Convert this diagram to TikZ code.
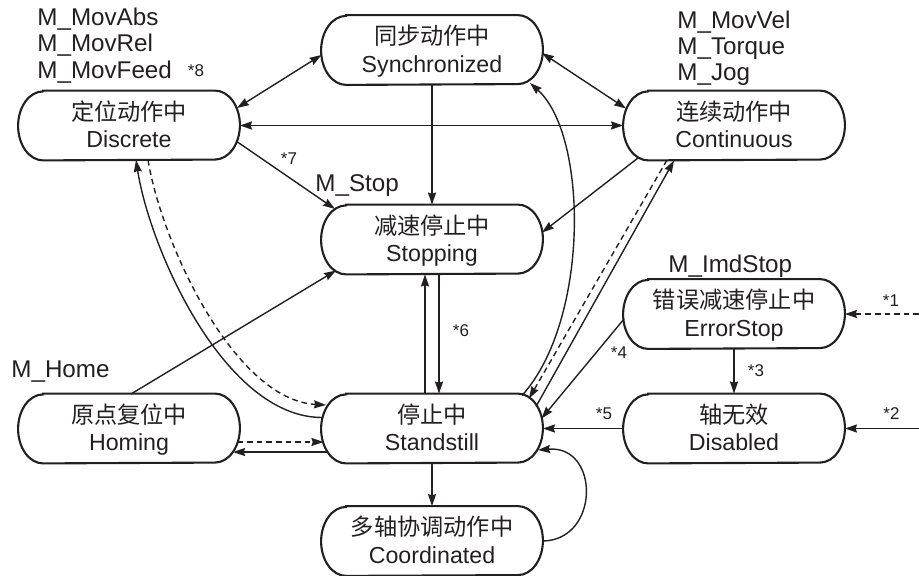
\documentclass[tikz,border=0pt]{standalone}
\usepackage{fontspec}
\setmainfont{Liberation Sans}
\newfontfamily\cjk{Noto Sans CJK SC}
\usetikzlibrary{arrows.meta,calc}

\definecolor{ink}{HTML}{231F20}

% two-line state label: Chinese name over English name, fixed line metrics
\newcommand\stlines[2]{\rule[-2.7pt]{0pt}{13.8pt}{\cjk #1}\\\rule[-2.7pt]{0pt}{13.8pt}#2}

\tikzset{
  state/.style={minimum width=110.5pt, minimum height=34.5pt, inner sep=0pt,
    align=center, text=ink, font=\fontsize{11.6}{13.8}\selectfont},
  outline/.style={draw=ink, line width=1.05pt},
  conn/.style={draw=ink, line width=0.7pt},
  dashedline/.style={dash pattern=on 2.8pt off 2pt},
  lbl/.style={text=ink, inner sep=0pt, font=\fontsize{12.1}{13}\selectfont},
  note/.style={text=ink, inner sep=0pt, font=\fontsize{8.5}{9}\selectfont},
  >={Stealth[length=6pt,width=4pt,inset=0.6pt]}
}

\begin{document}
\begin{tikzpicture}[x=0.5pt,y=-0.5pt]
\useasboundingbox (0,0) rectangle (919,576);

% states
\node[state] (dis) at (129,125.5) {\stlines{定位动作中}{Discrete}};
\node[state] (syn) at (432,50)    {\stlines{同步动作中}{Synchronized}};
\node[state] (con) at (734,125.5) {\stlines{连续动作中}{Continuous}};
\node[state] (stp) at (432,239.5) {\stlines{减速停止中}{Stopping}};
\node[state] (err) at (734,314)   {\stlines{错误减速停止中}{ErrorStop}};
\node[state] (sta) at (432,428.5) {\stlines{停止中}{Standstill}};
\node[state] (hom) at (129,428.5) {\stlines{原点复位中}{Homing}};
\node[state] (dsb) at (734,428.5) {\stlines{轴无效}{Disabled}};
\node[state] (coo) at (432,541)   {\stlines{多轴协调动作中}{Coordinated}};

% outlines with elliptical ends
\foreach \n in {dis,syn,con,stp,err,sta,hom,dsb,coo}{
  \draw[outline] ([xshift=12.5pt]\n.north west) -- ([xshift=-12.5pt]\n.north east)
    arc[start angle=90,end angle=-90,x radius=12.5pt,y radius=17.25pt]
    -- ([xshift=12.5pt]\n.south west)
    arc[start angle=270,end angle=90,x radius=12.5pt,y radius=17.25pt] -- cycle;
}

% command labels
\node[lbl,anchor=base west] (mabs)  at (37,26)    {M\_MovAbs};
\node[lbl,anchor=base west] (mrel)  at (37,52)    {M\_MovRel};
\node[lbl,anchor=base west] (mfeed) at (37,78.3)  {M\_MovFeed};
\node[note,anchor=base]     (n8)    at (196,76.7) {*8};
\node[lbl,anchor=base west] (mvel)  at (677,28.5) {M\_MovVel};
\node[lbl,anchor=base west] (mtrq)  at (677,54.5) {M\_Torque};
\node[lbl,anchor=base west] (mjog)  at (677,81)   {M\_Jog};
\node[lbl,anchor=base west] (mstop) at (315,191.5){M\_Stop};
\node[note,anchor=base]     (n7)    at (289,165)  {*7};
\node[note,anchor=base]     (n6)    at (461,337)  {*6};
\node[lbl,anchor=base west] (mimd)  at (668,272.7){M\_ImdStop};
\node[note,anchor=base]     (n1)    at (891,307)  {*1};
\node[note,anchor=base]     (n4)    at (619,359)  {*4};
\node[note,anchor=base]     (n3)    at (756,376.5){*3};
\node[note,anchor=base]     (n5)    at (604,419)  {*5};
\node[note,anchor=base]     (n2)    at (891.5,419){*2};
\node[lbl,anchor=base west] (mhome) at (11,377.3) {M\_Home};

% free ends of the incoming transitions
\coordinate (in1) at (919,314);
\coordinate (in2) at (919,428.5);

% transitions among the moving states
\draw[conn,<->] ($(dis)+(108,-17.5)$) -- ($(syn)+(-110.5,5)$);
\draw[conn,<->] ($(syn)+(110,3)$) -- ($(con)+(-108,-17)$);
\draw[conn,<->] (dis.east) -- (con.west);

% into Stopping
\draw[conn,->] (syn.south) -- (stp.north);
\draw[conn,->] ($(dis)+(107,15.5)$) -- ($(stp)+(-97,-30.5)$);
\draw[conn,->] ($(con)+(-96,32.5)$) -- ($(stp)+(110,-7)$);
\draw[conn,->] ($(hom)+(2,-34.5)$) -- ($(stp)+(-96,31)$);

% Stopping and Standstill
\draw[conn,->] ([xshift=-3.5pt]sta.north) -- ([xshift=-3.5pt]stp.south);
\draw[conn,->] ([xshift=3.5pt]stp.south) -- ([xshift=3.5pt]sta.north);

% Standstill to Synchronized
\draw[conn,->] ($(sta)+(90,-33)$) .. controls ($(sta)+(158,-108.5)$) and ($(syn)+(156,85)$) .. ($(syn)+(98,33)$);

% Standstill and Continuous
\draw[conn,->] ($(sta)+(104,-22)$) -- ($(con)+(-60,35)$);
\draw[conn,->,dashedline] ($(con)+(-67,34.5)$) -- ($(sta)+(97,-30)$);

% error handling
\draw[conn,->] ($(err)+(-110,5)$) -- ($(sta)+(109.5,-10)$);
\draw[conn,->] (dsb.west) -- (sta.east);
\draw[conn,->] (err.south) -- (dsb.north);
\draw[conn,->,dashedline] (in1) -- (err.east);
\draw[conn,->] (in2) -- (dsb.east);

% Standstill and Discrete
\draw[conn,->] ($(sta)+(-109.5,-11)$) .. controls ($(sta)+(-207,-10.5)$) and ($(dis)+(21,124.5)$) .. ($(dis)+(7,34.5)$);
\draw[conn,->,dashedline] ($(dis)+(19,34.5)$) .. controls ($(dis)+(33,119.5)$) and ($(sta)+(-197,-28.5)$) .. ($(sta)+(-106,-23.5)$);

% Standstill and Homing
\draw[conn,->,dashedline] ($(hom)+(108.5,13.5)$) -- ($(sta)+(-108.5,13.5)$);
\draw[conn,->] ($(sta)+(-104,23.5)$) -- ($(hom)+(104,23.5)$);

% Standstill and Coordinated
\draw[conn,->] (sta.south) -- (coo.north);
\draw[conn,->] (coo.east) .. controls ($(coo)+(168,-1)$) and ($(sta)+(168,16.5)$) .. ($(sta)+(106,21.5)$);
\end{tikzpicture}
\end{document}
